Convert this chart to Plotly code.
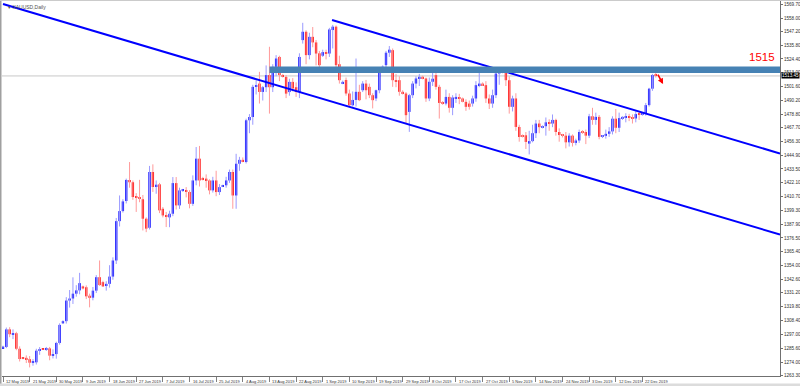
import plotly.graph_objects as go

# ---------------- data (XAUUSD daily, bars Sun-Fri from 12 May 2019) ----------------
opens = [
    1285.5, 1286.5, 1301.0, 1297.0, 1297.8, 1285.0, 1277.5, 1277.5, 1276.4, 1273.5,
    1273.8, 1283.4, 1284.8, 1284.3, 1285.3, 1279.3, 1280.6, 1289.8, 1306.0, 1307.8,
    1324.8, 1326.5, 1330.5, 1333.2, 1336.5, 1335.8, 1328.8, 1327.2, 1333.0, 1344.1,
    1340.0, 1337.0, 1338.6, 1344.6, 1357.9, 1390.4, 1398.7, 1407.0, 1424.4, 1422.5,
    1410.3, 1410.0, 1408.5, 1392.4, 1384.9, 1431.0, 1418.6, 1420.8, 1400.6, 1395.1,
    1393.5, 1396.5, 1421.8, 1403.4, 1415.5, 1416.0, 1414.5, 1404.7, 1424.0, 1442.0,
    1425.5, 1425.5, 1424.0, 1415.8, 1424.0, 1414.4, 1419.0, 1420.0, 1424.0, 1431.0,
    1411.6, 1437.8, 1441.0, 1439.2, 1473.7, 1476.4, 1501.3, 1504.0, 1497.1, 1501.0,
    1511.0, 1501.0, 1517.8, 1526.0, 1511.0, 1509.5, 1497.0, 1505.4, 1501.0, 1497.0,
    1539.9, 1546.8, 1527.5, 1542.6, 1538.0, 1529.0, 1527.0, 1530.0, 1528.8, 1548.2,
    1551.0, 1520.0, 1504.0, 1507.0, 1495.8, 1486.1, 1490.5, 1497.2, 1498.5, 1504.0,
    1501.3, 1494.4, 1491.7, 1498.5, 1515.1, 1519.2, 1529.5, 1531.6, 1506.8, 1506.8,
    1497.2, 1495.8, 1480.6, 1494.4, 1504.0, 1508.2, 1509.6, 1508.2, 1491.7, 1505.5,
    1511.0, 1501.3, 1488.5, 1487.5, 1493.0, 1484.0, 1492.0, 1492.5, 1491.7, 1488.9,
    1487.5, 1487.5, 1491.7, 1502.7, 1504.0, 1502.7, 1491.7, 1487.5, 1494.4, 1512.3,
    1514.5, 1513.7, 1506.8, 1484.8, 1491.7, 1468.2, 1461.0, 1461.3, 1454.4, 1456.5,
    1463.0, 1471.0, 1468.0, 1468.8, 1472.0, 1471.0, 1474.0, 1464.0, 1461.5, 1461.0,
    1455.5, 1461.0, 1455.0, 1457.0, 1464.0, 1464.0, 1461.0, 1477.0, 1474.0, 1476.5,
    1460.0, 1460.8, 1462.5, 1464.5, 1475.0, 1467.5, 1475.5, 1476.0, 1476.3, 1475.8,
    1475.2, 1478.8, 1478.2, 1479.3, 1486.2, 1499.8, 1511.5,
]
highs = [
    1287.5, 1302.5, 1302.8, 1301.0, 1299.0, 1287.0, 1278.2, 1279.5, 1279.0, 1276.5,
    1285.0, 1286.4, 1285.3, 1286.5, 1286.5, 1284.5, 1290.8, 1306.0, 1308.5, 1327.6,
    1333.5, 1344.0, 1337.5, 1347.7, 1337.2, 1337.3, 1330.5, 1336.0, 1345.8, 1357.9,
    1341.2, 1340.8, 1354.0, 1360.5, 1393.0, 1411.6, 1408.5, 1425.5, 1439.2, 1424.0,
    1413.5, 1424.5, 1412.0, 1393.5, 1436.0, 1437.3, 1424.0, 1422.0, 1402.0, 1398.0,
    1399.0, 1426.8, 1426.8, 1418.0, 1417.0, 1418.5, 1416.0, 1428.2, 1451.6, 1452.5,
    1427.0, 1429.0, 1425.0, 1427.0, 1432.0, 1421.0, 1420.5, 1427.0, 1433.0, 1433.0,
    1446.0, 1443.5, 1443.0, 1475.0, 1478.8, 1503.0, 1507.0, 1513.7, 1502.0, 1519.0,
    1534.4, 1520.0, 1527.5, 1527.0, 1512.0, 1511.0, 1508.0, 1508.5, 1505.0, 1529.0,
    1554.2, 1548.0, 1546.0, 1550.7, 1540.0, 1531.0, 1532.0, 1532.0, 1550.0, 1552.5,
    1552.0, 1527.0, 1506.5, 1509.0, 1499.0, 1497.5, 1524.7, 1503.0, 1506.0, 1507.0,
    1504.0, 1496.0, 1499.0, 1517.0, 1519.0, 1531.0, 1535.0, 1533.0, 1512.0, 1510.0,
    1498.5, 1497.0, 1495.5, 1506.0, 1510.0, 1512.0, 1510.5, 1509.0, 1509.0, 1516.5,
    1513.0, 1503.0, 1489.5, 1499.0, 1496.0, 1494.4, 1496.0, 1495.5, 1492.5, 1491.0,
    1490.0, 1494.0, 1506.0, 1516.5, 1505.0, 1506.0, 1495.0, 1499.0, 1514.0, 1517.0,
    1516.0, 1516.0, 1510.0, 1494.0, 1496.0, 1470.0, 1462.0, 1464.0, 1465.0, 1470.0,
    1474.0, 1474.0, 1469.5, 1476.0, 1474.5, 1478.5, 1475.0, 1467.0, 1462.5, 1464.0,
    1463.0, 1462.0, 1458.5, 1466.0, 1465.5, 1466.0, 1479.0, 1484.0, 1480.0, 1478.0,
    1461.5, 1466.0, 1468.0, 1477.0, 1483.0, 1480.0, 1477.0, 1479.5, 1479.0, 1478.5,
    1481.0, 1481.0, 1480.0, 1488.0, 1500.5, 1512.0, 1513.5,
]
lows = [
    1285.0, 1285.5, 1294.5, 1293.0, 1283.8, 1274.5, 1276.3, 1273.2, 1269.6, 1271.0,
    1272.0, 1280.0, 1284.0, 1283.2, 1275.5, 1277.0, 1276.8, 1288.4, 1305.5, 1305.8,
    1319.0, 1322.0, 1328.0, 1330.0, 1334.0, 1326.0, 1319.2, 1325.0, 1331.0, 1337.0,
    1336.0, 1333.0, 1335.5, 1342.0, 1355.0, 1386.0, 1397.5, 1405.0, 1418.0, 1408.0,
    1398.0, 1406.0, 1382.7, 1381.3, 1383.5, 1414.5, 1413.0, 1397.0, 1393.5, 1385.5,
    1385.4, 1394.5, 1400.0, 1400.5, 1414.5, 1410.0, 1401.0, 1403.0, 1420.0, 1419.0,
    1424.0, 1418.0, 1412.5, 1414.0, 1411.0, 1412.0, 1418.5, 1418.0, 1422.0, 1400.6,
    1400.6, 1432.0, 1439.0, 1438.0, 1463.0, 1470.0, 1495.0, 1487.5, 1490.0, 1497.0,
    1479.2, 1497.0, 1510.0, 1506.0, 1509.0, 1492.0, 1494.0, 1497.5, 1493.0, 1492.0,
    1537.0, 1520.0, 1524.0, 1534.0, 1519.0, 1516.0, 1526.0, 1524.0, 1526.0, 1533.0,
    1516.0, 1504.0, 1503.5, 1494.0, 1484.8, 1485.0, 1485.0, 1489.5, 1497.0, 1491.0,
    1492.0, 1483.5, 1489.5, 1496.0, 1514.0, 1515.0, 1526.0, 1501.3, 1501.0, 1494.0,
    1495.0, 1471.0, 1464.1, 1492.0, 1500.0, 1502.0, 1507.5, 1488.9, 1489.5, 1502.0,
    1499.0, 1475.1, 1486.5, 1486.0, 1480.0, 1477.9, 1488.0, 1487.0, 1488.5, 1481.5,
    1482.5, 1485.0, 1489.0, 1501.0, 1502.0, 1488.0, 1483.0, 1484.0, 1492.0, 1503.0,
    1512.5, 1502.0, 1479.2, 1481.0, 1465.0, 1456.0, 1459.5, 1450.0, 1445.5, 1455.5,
    1459.0, 1463.0, 1467.0, 1461.0, 1465.0, 1468.0, 1461.0, 1456.0, 1459.5, 1450.5,
    1452.0, 1452.0, 1453.0, 1455.0, 1462.5, 1454.0, 1459.0, 1470.0, 1470.0, 1458.0,
    1459.0, 1458.5, 1460.0, 1462.0, 1463.0, 1464.0, 1474.0, 1472.0, 1473.0, 1471.0,
    1472.0, 1474.0, 1477.5, 1477.5, 1485.0, 1498.0, 1509.0,
]
closes = [
    1286.8, 1301.0, 1297.0, 1297.8, 1285.0, 1276.5, 1277.0, 1276.4, 1273.5, 1274.2,
    1283.4, 1284.3, 1284.3, 1285.3, 1279.3, 1280.6, 1289.8, 1304.7, 1307.8, 1324.8,
    1326.5, 1330.5, 1333.2, 1339.2, 1334.8, 1328.3, 1327.0, 1333.0, 1344.1, 1337.6,
    1336.5, 1338.6, 1344.6, 1357.9, 1390.4, 1398.7, 1406.7, 1424.4, 1422.5, 1410.3,
    1409.7, 1408.9, 1392.4, 1384.2, 1431.0, 1418.6, 1420.5, 1399.3, 1395.1, 1394.0,
    1396.5, 1421.8, 1403.4, 1415.8, 1416.0, 1414.5, 1404.7, 1424.0, 1442.0, 1424.0,
    1425.0, 1424.0, 1415.8, 1424.0, 1414.4, 1418.5, 1420.0, 1424.0, 1431.0, 1411.6,
    1437.8, 1441.0, 1439.5, 1473.7, 1476.4, 1501.3, 1502.5, 1497.1, 1501.0, 1511.0,
    1501.0, 1517.8, 1524.7, 1511.0, 1509.5, 1495.7, 1505.4, 1500.0, 1497.1, 1526.0,
    1546.8, 1527.5, 1542.6, 1538.0, 1528.8, 1519.2, 1530.0, 1528.8, 1548.7, 1551.0,
    1519.2, 1506.8, 1505.4, 1495.8, 1486.1, 1490.5, 1497.2, 1490.3, 1504.0, 1498.5,
    1494.4, 1490.3, 1498.5, 1515.1, 1517.9, 1529.5, 1532.0, 1506.8, 1505.4, 1497.2,
    1495.8, 1477.9, 1494.4, 1504.0, 1508.2, 1509.6, 1508.2, 1491.7, 1505.5, 1508.0,
    1501.3, 1488.0, 1487.5, 1493.0, 1484.0, 1492.5, 1493.0, 1491.7, 1488.9, 1484.8,
    1484.8, 1491.7, 1502.7, 1504.0, 1502.7, 1491.7, 1487.5, 1494.4, 1512.3, 1515.1,
    1513.5, 1506.8, 1484.8, 1491.7, 1468.2, 1459.9, 1460.5, 1455.8, 1456.5, 1463.0,
    1471.0, 1468.0, 1468.8, 1472.0, 1471.0, 1474.0, 1464.0, 1461.5, 1461.0, 1455.5,
    1461.0, 1455.0, 1457.0, 1464.0, 1463.5, 1461.0, 1477.0, 1474.0, 1476.5, 1460.0,
    1460.8, 1462.5, 1464.5, 1475.0, 1467.5, 1475.5, 1476.5, 1476.3, 1475.8, 1475.2,
    1478.8, 1478.2, 1479.3, 1486.2, 1499.8, 1511.0, 1510.3,
]

date_labels = ["12 May 2019", "21 May 2019", "30 May 2019", "9 Jun 2019", "18 Jun 2019",
               "27 Jun 2019", "7 Jul 2019", "16 Jul 2019", "25 Jul 2019", "4 Aug 2019",
               "13 Aug 2019", "22 Aug 2019", "1 Sep 2019", "10 Sep 2019", "19 Sep 2019",
               "29 Sep 2019", "8 Oct 2019", "17 Oct 2019", "27 Oct 2019", "5 Nov 2019",
               "14 Nov 2019", "24 Nov 2019", "3 Dec 2019", "12 Dec 2019", "22 Dec 2019"]
date_label_bars = [0, 8, 16, 24, 32, 40, 48, 56, 64, 72, 80, 88, 96, 104, 112,
                   120, 128, 136, 144, 152, 160, 168, 176, 184, 192]

price_ticks = [1569.70, 1558.00, 1547.20, 1535.80, 1524.40, 1513.00, 1501.60, 1490.20,
               1478.80, 1467.70, 1456.30, 1444.90, 1433.50, 1422.10, 1410.70, 1399.30,
               1387.90, 1376.50, 1365.40, 1354.00, 1342.60, 1331.20, 1319.80, 1308.40,
               1297.00, 1285.60, 1274.00, 1263.30]

# drawing objects
zone_start_bar = 80
zone_low, zone_high = 1512.7, 1518.1
zone_label = "1515"
lower_line_bars = [0, 233.3]
lower_line_prices = [1569.7, 1379.3]
upper_line_bars = [98.8, 233.3]
upper_line_prices = [1556.5, 1446.3]
arrow_bars = [196.4, 198.2]
arrow_prices = [1512.7, 1503.6]
last_price_level = 1510.3
last_price_label = "1513.45"
symbol_title = "XAUUSD,Daily"

X_MIN, X_MAX = -0.3, 233.3
Y_MIN, Y_MAX = 1262.5, 1572.2

BLUE = "#0000FF"
RED = "#FF0000"
FONT = "Liberation Sans"

# ---------------- figure ----------------
idx = list(range(len(opens)))
fig = go.Figure()

# wicks
for up, col in ((True, "#9a9aff"), (False, "#ff9a9a")):
    xs, ys = [], []
    for i in idx:
        if (closes[i] >= opens[i]) == up:
            xs += [i, i, None]
            ys += [lows[i], highs[i], None]
    fig.add_trace(go.Scatter(x=xs, y=ys, mode="lines", line=dict(color=col, width=1),
                             hoverinfo="skip", showlegend=False))

# bodies
body_base = [min(o, c) for o, c in zip(opens, closes)]
body_h = [max(abs(c - o), 0.9) for o, c in zip(opens, closes)]
body_col = [BLUE if c >= o else RED for o, c in zip(opens, closes)]
fig.add_trace(go.Bar(x=idx, y=body_h, base=body_base, width=0.7,
                     marker=dict(color=body_col, line=dict(width=0)),
                     hoverinfo="skip", showlegend=False))

# channel lines
for bx, by in ((lower_line_bars, lower_line_prices), (upper_line_bars, upper_line_prices)):
    fig.add_trace(go.Scatter(x=bx, y=by, mode="lines", line=dict(color=BLUE, width=2),
                             hoverinfo="skip", showlegend=False))

shapes = [
    # last price line
    dict(type="line", xref="paper", yref="y", x0=0, x1=1, y0=last_price_level,
         y1=last_price_level, line=dict(color="#c8c8c8", width=1), layer="below"),
    # resistance zone
    dict(type="rect", xref="x", yref="y", x0=zone_start_bar, x1=X_MAX, y0=zone_low,
         y1=zone_high, fillcolor="#4682B4", line=dict(width=0), layer="above"),
    # window frame
    dict(type="line", xref="paper", yref="paper", x0=-1.5 / 778, x1=-1.5 / 778, y0=-0.03,
         y1=1.01, line=dict(color="#a0a0a0", width=2)),
    dict(type="line", xref="paper", yref="paper", x0=-0.01, x1=1.03, y0=1.0015,
         y1=1.0015, line=dict(color="#c8c8c8", width=1)),
    dict(type="rect", xref="paper", yref="paper", x0=-0.01, x1=1.03, y0=-10 / 375,
         y1=-7.5 / 375, fillcolor="#dcdcdc", line=dict(width=0)),
]

annotations = [
    dict(x=arrow_bars[1], y=arrow_prices[1], ax=arrow_bars[0], ay=arrow_prices[0],
         xref="x", yref="y", axref="x", ayref="y", text="", showarrow=True,
         arrowhead=2, arrowsize=0.7, arrowwidth=1.6, arrowcolor=RED),
    dict(x=0.9965, y=zone_high + 1.2, xref="paper", yref="y", text=zone_label,
         showarrow=False, xanchor="right", yanchor="bottom",
         font=dict(family=FONT, size=11.5, color=RED)),
    dict(x=1.0, y=last_price_level, xref="paper", yref="y", text=last_price_label,
         showarrow=False, xanchor="left", yanchor="middle", xshift=1,
         bgcolor="#000000", borderpad=0, font=dict(family=FONT, size=4.6, color="#ffffff")),
    dict(x=4 / 778, y=0.997, xref="paper", yref="paper", text="\u25be " + symbol_title,
         showarrow=False, xanchor="left", yanchor="top",
         font=dict(family=FONT, size=5, color="#505050")),
]
for b, lab in zip(date_label_bars, date_labels):
    annotations.append(dict(x=b, y=0, xref="x", yref="paper", text=lab, showarrow=False,
                            xanchor="left", yanchor="top", xshift=1, yshift=-1,
                            font=dict(family=FONT, size=4.0, color="#303030")))

fig.update_layout(
    width=800, height=386,
    margin=dict(l=2, r=20, t=1, b=10, autoexpand=False),
    paper_bgcolor="#ffffff", plot_bgcolor="#ffffff",
    barmode="overlay", showlegend=False, hovermode=False,
    shapes=shapes, annotations=annotations,
    xaxis=dict(range=[X_MIN, X_MAX], showgrid=False, zeroline=False,
               tickvals=date_label_bars, showticklabels=False, ticks="outside",
               ticklen=5, tickcolor="#808080", showline=True, linecolor="#707070",
               linewidth=1, fixedrange=True),
    yaxis=dict(range=[Y_MIN, Y_MAX], side="right", showgrid=False, zeroline=False,
               tickvals=price_ticks, ticktext=[f"{v:.2f}" for v in price_ticks],
               ticks="outside", ticklen=2, tickcolor="#707070",
               tickfont=dict(family=FONT, size=4.6, color="#303030"),
               showline=True, linecolor="#707070", linewidth=1, fixedrange=True),
)

fig.write_html(
    "out.html",
    config={"displayModeBar": False},
    post_script="document.body.style.margin='0px';document.body.style.padding='0px';"
                "document.body.style.overflow='hidden';",
)
